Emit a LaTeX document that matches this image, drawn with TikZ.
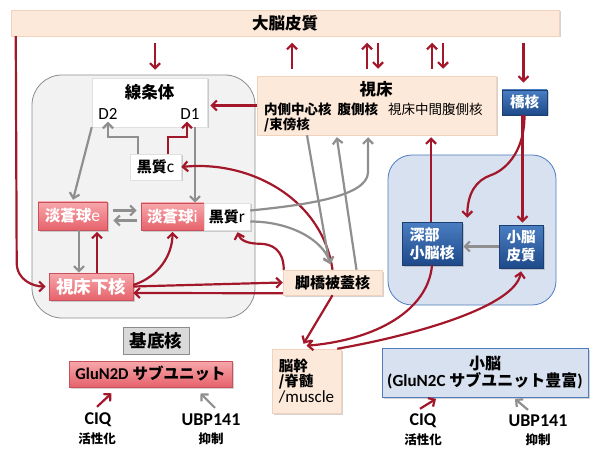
\documentclass[tikz,border=0pt]{standalone}
\usepackage{fontspec}
\setmainfont{Carlito}
\newfontfamily\jp{Noto Sans CJK JP}
\usetikzlibrary{arrows.meta,shadows,calc}
\definecolor{myred}{HTML}{A3172B}
\definecolor{mygray}{HTML}{8F8F8F}
\definecolor{peach}{HTML}{FDE9D9}
\definecolor{peachedge}{HTML}{F0D2BD}
\definecolor{pinkT}{HTML}{F7A8AC}
\definecolor{pinkB}{HTML}{E6626B}
\definecolor{pinkE}{HTML}{C9505A}
\definecolor{blueT}{HTML}{4A7EC2}
\definecolor{blueB}{HTML}{1E4A8A}
\definecolor{blueE}{HTML}{1C3E70}
\definecolor{cbfill}{HTML}{D7E1F0}
\definecolor{cbedge}{HTML}{4F7CBF}
\definecolor{bgfill}{HTML}{F2F2F2}
\definecolor{bgedge}{HTML}{8C8C8C}
\definecolor{lgray}{HTML}{D9D9D9}
\newcommand\fsz[2]{\fontsize{#1}{#2}\selectfont}
\begin{document}
\begin{tikzpicture}[x=1pt,y=-1pt,
  txt/.style={inner sep=0pt, text=black},
  redl/.style={draw=myred, line width=2.2pt, -{Straight Barb[length=5pt,width=10pt]}},
  grayl/.style={draw=mygray, line width=2.2pt, -{Straight Barb[length=5pt,width=10pt]}},
  sh/.style={drop shadow={shadow xshift=1.5pt,shadow yshift=-1.5pt,opacity=0.35}},
  peachbox/.style={rectangle, inner sep=0pt, fill=peach, draw=peachedge, line width=0.5pt, sh, align=center, text=black},
  whitebox/.style={rectangle, inner sep=0pt, fill=white, draw=black!12, line width=0.5pt, sh, align=center, text=black},
  pinkbox/.style={rectangle, inner sep=0pt, top color=pinkT, bottom color=pinkB, draw=pinkE, line width=0.6pt, sh, text=white, align=center},
  bluebox/.style={rectangle, inner sep=0pt, top color=blueT, bottom color=blueB, draw=blueE, line width=0.6pt, sh, text=white, align=center},
  graybox/.style={rectangle, inner sep=0pt, fill=lgray, draw=black!45, line width=0.6pt, text=black, align=center},
  cbbox/.style={rectangle, inner sep=0pt, fill=cbfill, draw=cbedge, line width=0.8pt, sh, text=black, align=center}
]
\useasboundingbox (0,0) rectangle (596,454);
% regions
\draw[fill=bgfill, draw=bgedge, line width=0.8pt, rounded corners=30pt] (32,75) rectangle (255,318);
\draw[fill=cbfill, draw=cbedge, line width=0.8pt, rounded corners=24pt] (388,155) rectangle (556,305);

% nodes
\node[peachbox, minimum width=548pt, minimum height=26pt] (ctx) at (285,23) {\jp\bfseries\fsz{16.5}{18}大脳皮質};

\node[whitebox, minimum width=115pt, minimum height=49pt] (str) at (149.5,102.5) {};
\node[txt] (strT) at (149.5,92) {\jp\bfseries\fsz{16.5}{18}線条体};
\node[txt] (d2) at (108,114) {\fsz{17}{18}D2};
\node[txt] (d1) at (190,114) {\fsz{17}{18}D1};

\node[whitebox, minimum width=51pt, minimum height=26pt] (snc) at (155.5,167) {{\jp\bfseries\fsz{15}{17}黒質}{\fsz{17.5}{17}c}};
\node[pinkbox, minimum width=69pt, minimum height=28pt] (gpe) at (72.5,216) {{\jp\bfseries\fsz{15.5}{17}淡蒼球}{\fsz{17.5}{17}e}};
\node[pinkbox, minimum width=63pt, minimum height=27pt] (gpi) at (172.5,216.5) {{\jp\bfseries\fsz{15.5}{17}淡蒼球}{\fsz{17.5}{17}i}};
\node[whitebox, minimum width=46pt, minimum height=27pt] (snr) at (227,216.5) {{\jp\bfseries\fsz{15}{17}黒質}{\fsz{17.5}{17}r}};
\node[pinkbox, minimum width=84pt, minimum height=27pt] (stn) at (91,286.5) {\jp\bfseries\fsz{17.5}{19}視床下核};
\node[peachbox, minimum width=99pt, minimum height=25pt] (ppn) at (332.5,282.5) {\jp\bfseries\fsz{15}{17}脚橋被蓋核};

\node[peachbox, minimum width=239pt, minimum height=59pt] (th) at (376.5,105.5) {};
\node[txt] (thT) at (376,89) {\jp\bfseries\fsz{16.5}{18}視床};
\node[txt, anchor=west] (thL2) at (264,109) {\jp\fsz{13.5}{16}{\bfseries 内側中心核\hspace{6pt}腹側核}\hspace{10pt}視床中間腹側核};
\node[txt, anchor=west] (thL3) at (264,124.5) {\jp\bfseries\fsz{13.5}{16}/束傍核};

\node[bluebox, minimum width=45pt, minimum height=25pt] (pn) at (524.5,102.5) {\jp\bfseries\fsz{14.5}{16}橋核};
\node[bluebox, minimum width=60pt, minimum height=43pt, align=left, font=\jp\bfseries\fsz{15}{18}] (dcn) at (432,243.5) {深部\\小脳核};
\node[bluebox, minimum width=44pt, minimum height=43pt, font=\jp\bfseries\fsz{14.5}{18}] (cbc) at (521,246.5) {小脳\\皮質};

\node[graybox, minimum width=66pt, minimum height=27pt] (bgl) at (156,340.5) {\jp\bfseries\fsz{17.5}{19}基底核};
\node[pinkbox, minimum width=163pt, minimum height=26pt, text=black] (glun2d) at (150.5,374) {{\bfseries\fsz{16.5}{17}GluN2D}\hspace{4pt}{\jp\bfseries\fsz{15.5}{17}サブユニット}};

\node[peachbox, minimum width=69pt, minimum height=64pt, align=left] (bs) at (306.5,381) {{\jp\bfseries\fsz{14.5}{19}脳幹}\\{\jp\bfseries\fsz{14.5}{19}/脊髄}\\{\fsz{17}{19}/muscle}};

\node[cbbox, minimum width=206pt, minimum height=49pt] (cbl) at (485,372.5) {{\jp\bfseries\fsz{16}{20}小脳}\\{\bfseries\fsz{17}{20}(GluN2C}\hspace{4pt}{\jp\bfseries\fsz{16}{20}サブユニット豊富}{\bfseries\fsz{17}{20})}};

\node[txt] (ciq1) at (98,420) {\bfseries\fsz{18}{18}CIQ};
\node[txt] (act1) at (97,438.5) {\jp\bfseries\fsz{12.5}{14}活性化};
\node[txt] (ubp1) at (211,420) {\bfseries\fsz{18}{18}UBP141};
\node[txt] (inh1) at (211,438.5) {\jp\bfseries\fsz{12.5}{14}抑制};
\node[txt] (ciq2) at (423,421) {\bfseries\fsz{18}{18}CIQ};
\node[txt] (act2) at (423,439.5) {\jp\bfseries\fsz{12.5}{14}活性化};
\node[txt] (ubp2) at (538,421) {\bfseries\fsz{18}{18}UBP141};
\node[txt] (inh2) at (538,439.5) {\jp\bfseries\fsz{12.5}{14}抑制};

% connectors: cortex
\draw[redl, shorten <=7pt, shorten >=8pt] ($(str.north)+(5.5,-42)$) -- ($(str.north)+(5.5,0)$);
\foreach \dx in {-84.5,-9.5,55.5}
  \draw[redl, shorten <=7pt, shorten >=7pt] ($(th.north)+(\dx,0)$) -- ($(th.north)+(\dx,-40)$);
\foreach \dx in {1.5,66.5}
  \draw[redl, shorten <=7pt, shorten >=7pt] ($(th.north)+(\dx,-40)$) -- ($(th.north)+(\dx,0)$);
\draw[redl, shorten <=7pt, shorten >=7pt] ($(pn.north)+(-1,-54)$) -- ($(pn.north)+(-1,0)$);
\draw[redl, shorten >=3pt] ($(ctx.south west)+(5,0)$) -- ($(stn.west)+(-32,-24)$) .. controls +(0,18) and +(-15,0) .. (stn.west);

% basal ganglia
\draw[grayl, shorten >=2pt] (str.south west) -- (gpe.north);
\draw[grayl, shorten >=2pt] ($(snc.north)+(-17.5,0)$) -- ++(0,-17) -| (d2.south);
\draw[redl, shorten >=2pt] ($(snc.north)+(12.5,0)$) -- ++(0,-17) -| ($(d1.south)+(-3,0)$);
\draw[grayl] ($(str.south)+(45.5,0)$) -- ($(gpi.north)+(22.5,0)$);
\draw[grayl, shorten <=6pt, shorten >=4pt] ($(gpe.east)+(0,-5.5)$) -- ($(gpi.west)+(0,-6)$);
\draw[grayl, shorten <=4pt, shorten >=6pt] ($(gpi.west)+(0,4)$) -- ($(gpe.east)+(0,4.5)$);
\draw[grayl] ($(gpe.south)+(6.5,0)$) -- ($(stn.north)+(-12,0)$);
\draw[redl, shorten >=1.5pt] ($(stn.north)+(6,0)$) -- ($(gpe.south)+(24.5,0)$);
\draw[redl, shorten >=1.5pt] ($(stn.east)+(0,-1.5)$) .. controls +(25,-8) and +(0,25) .. (gpi.south);
\draw[redl] (stn.east) -- (ppn.west);
\draw[redl] ($(ppn.south west)+(0,-2)$) -- ($(stn.east)+(0,6.5)$);
\draw[redl, shorten >=2pt] ($(ppn.north west)+(1,0)$) .. controls +(0,-20) and +(12,0) .. ($(ppn.north west)+(-23,-26)$) .. controls +(-12,0) and +(3,10) .. ($(snr.south)+(10,0)$);
\draw[redl] (ppn.north) .. controls +(-10,-70) and +(70,-7) .. (snc.east);
\draw[grayl, shorten >=2pt] ($(snr.east)+(0,-6)$) .. controls +(50,-5) and +(0,25) .. ($(th.south)+(-8.5,37)$) -- ($(th.south)+(-8.5,0)$);
\draw[grayl, shorten >=6pt] ($(snr.east)+(0,5)$) .. controls +(40,0) and +(-10,-30) .. (ppn.north);
\draw[grayl, shorten >=6pt] ($(th.south)+(-69.5,0)$) -- ($(ppn.north)+(-2,0)$);
\draw[grayl, shorten >=2pt] ($(ppn.north)+(24,0)$) -- ($(th.south)+(-40,0)$);
\draw[redl, shorten >=3pt] (th.west) -- (th.west -| str.east);

% cerebellum
\draw[redl, shorten >=2pt] ($(dcn.north)+(-1,0)$) -- ($(th.south)+(54.5,0)$);
\draw[redl] (pn.south) .. controls +(0,40) and +(12,-4) .. ($(pn.south)+(-34,60)$) .. controls +(-14,5) and +(0,-25) .. ($(dcn.north east)+(5,-4)$);
\draw[redl, shorten >=2pt] ($(pn.south)+(-2,0)$) -- ($(cbc.north)+(1.5,0)$);
\draw[grayl, shorten >=1pt] (cbc.west) -- (cbc.west -| dcn.east);
\draw[redl] (dcn.south) .. controls +(-4,45) and +(70,-6) .. ($(bs.north)+(0,-3)$);
\draw[redl] (ppn.south) -- ($(bs.north)+(-3,-5)$);
\draw[redl] ($(bs.north east)+(-4,0)$) .. controls +(80,-14) and +(-6,35) .. ($(cbc.south)+(0,3)$);

% drugs
\draw[redl] ($(ciq1.north)+(-1,-6)$) -- ($(glun2d.south)+(-39,6)$);
\draw[grayl] ($(ubp1.north)+(4,-6)$) -- ($(glun2d.south)+(50,6)$);
\draw[redl] ($(ciq2.north)+(-3,-5)$) -- ($(cbl.south)+(-49,1.5)$);
\draw[grayl] ($(ubp2.north)+(-10,-5)$) -- ($(cbl.south)+(30,1.5)$);
\end{tikzpicture}
\end{document}
